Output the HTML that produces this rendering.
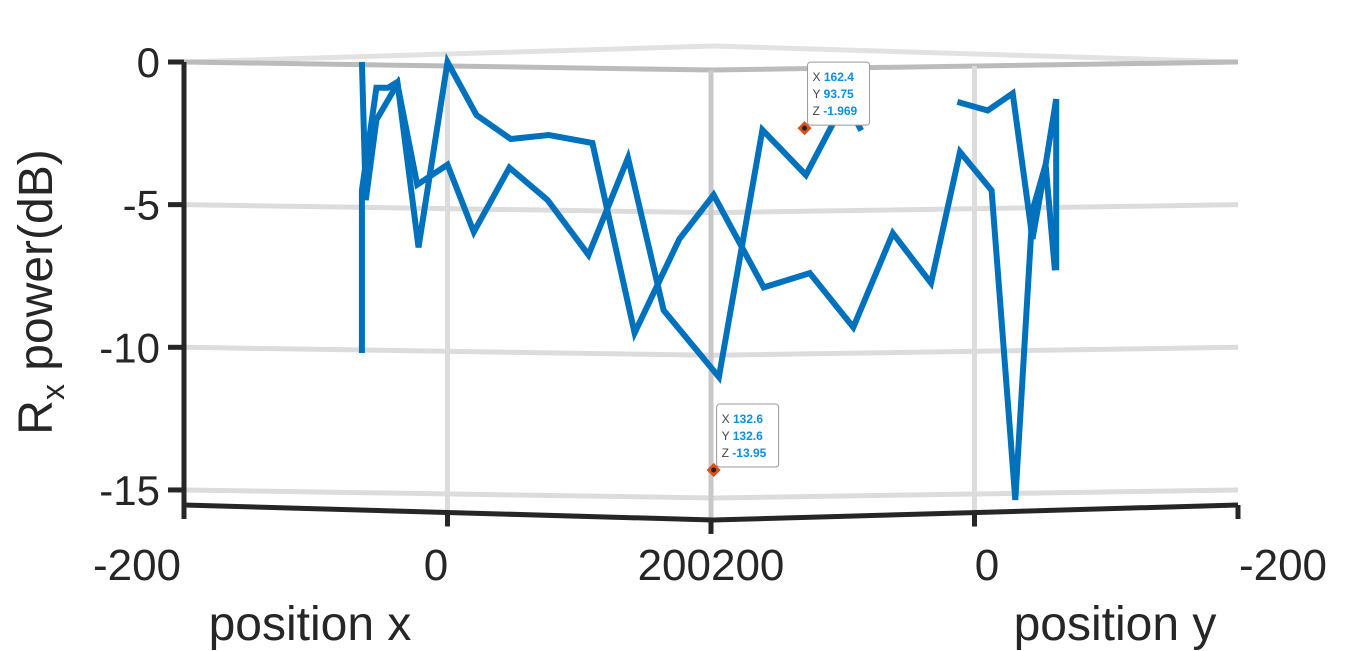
<!DOCTYPE html>
<html><head><meta charset="utf-8"><style>
body{margin:0;background:#fff}
svg{display:block;font-family:"Liberation Sans",sans-serif}
</style></head><body>
<svg width="1366" height="651" viewBox="0 0 1366 651">
<g id="grid"></g>
<g id="axes"></g>
<g id="series"></g>
<g id="tips"></g>
<text x="310" y="640" font-size="48" fill="#262626" text-anchor="middle">position x</text>
<text x="1115" y="640" font-size="48" fill="#262626" text-anchor="middle">position y</text>
<text transform="translate(52,292) rotate(-90)" font-size="48" fill="#262626" text-anchor="middle">R<tspan font-size="32" dy="12">x</tspan><tspan dy="-12"> power(dB)</tspan></text>
</svg>
<script>
const zTicks=[0,-5,-10,-15];
const zTickLabels=["0","-5","-10","-15"];
const hTicks=[-200,0,200,400,600];
const hTickLabels=["-200","0","200200","0","-200"];
const seriesAU=[-65,-65,-54,-45,-38,-22,0,22,48,77,110,142,176,202,240,275,308,338,367,389,413,431,444,454,461];
const seriesAZ=[-10.2,-4.5,-0.9,-0.9,-0.7,-6.5,0,-1.86,-2.7,-2.56,-2.84,-9.5,-6.2,-4.66,-7.9,-7.4,-9.3,-6,-7.75,-3.15,-4.5,-15.35,-5.2,-3.6,-7.3];
const seriesBU=[-65,-62,-54,-38,-23,0,20,47,76,107,137,164,206,239,272,302,314];
const seriesBZ=[0,-4.84,-2.03,-0.77,-4.3,-3.6,-5.96,-3.7,-4.84,-6.76,-3.36,-8.7,-11.04,-2.38,-3.96,-1.33,-2.4];
const seriesCU=[387,410,429,444,454,462,462];
const seriesCZ=[-1.4,-1.7,-1.1,-6.2,-3.6,-1.3,-7.3];
const tipX=[162.4,132.6],tipY=[93.75,132.6],tipZ=[-1.969,-13.95],tipU=[271,202];
const NS="http://www.w3.org/2000/svg";
const hx=u=>184+(u+200)*1.3175;
const zy=z=>62-z*28.53;
const bend=u=>{const px=hx(u);return px<=713?(px-184)/529:(1238-px)/525;};
function mk(tag,a,p){const e=document.createElementNS(NS,tag);for(const k in a)e.setAttribute(k,a[k]);p.appendChild(e);return e;}
const grid=document.getElementById('grid'),axes=document.getElementById('axes'),ser=document.getElementById('series'),tips=document.getElementById('tips');
let e=mk('polyline',{points:"184,62 713,46 1238,62",fill:"none",stroke:"#e2e2e2","stroke-width":5},grid);


zTicks.forEach((z,i)=>{
 const y=zy(z);
 let g=mk('polyline',{points:`184,${y} 713,${y+8} 1238,${y}`,fill:"none",stroke:i==0?"#bbbbbb":"#dcdcdc","stroke-width":5},grid);
 
 
 let t=mk('text',{x:160,y:y+15,"font-size":42,fill:"#262626","text-anchor":"end"},axes);
 t.textContent=zTickLabels[i];
 
 
 let tk=mk('line',{x1:168,y1:y,x2:184,y2:y,stroke:"#262626","stroke-width":5},axes);
 
 
});
hTicks.forEach((u,i)=>{
 const x=hx(u),yb=505+15*bend(u);
 if(i>0&&i<4){let g=mk('line',{x1:x,y1:zy(0)+8*bend(u),x2:x,y2:yb,stroke:i==2?"#c8c8c8":"#dcdcdc","stroke-width":5},grid);
 
 }
 let tk=mk('line',{x1:x,y1:yb,x2:x,y2:yb+14,stroke:"#262626","stroke-width":5},axes);
 
 
 let t=mk('text',{x:i==0?137:i==4?1283:(i==1?436:i==3?987:x),y:580,"font-size":44,fill:"#262626","text-anchor":"middle"},axes);
 t.textContent=hTickLabels[i];
 
 
});
e=mk('line',{x1:184,y1:62,x2:184,y2:507,stroke:"#262626","stroke-width":5},axes);


e=mk('polyline',{points:"184,505 713,520 1238,505",fill:"none",stroke:"#262626","stroke-width":5},axes);


function line(U,Z,name){const p=U.map((u,i)=>hx(u).toFixed(1)+","+zy(Z[i]).toFixed(1)).join(" ");
 const l=mk('polyline',{points:p,fill:"none",stroke:"#0072BD","stroke-width":6,"stroke-linejoin":"miter"},ser);
 
 }
line(seriesAU,seriesAZ,'series-line-a');
line(seriesBU,seriesBZ,'series-line-b');
line(seriesCU,seriesCZ,'series-line-c');
tipU.forEach((u,i)=>{
 const x=hx(u),y=zy(tipZ[i])+10;
 const g=mk('g',{},tips);
 
 
 mk('rect',{x:x-5,y:y-5,width:10,height:10,fill:"#d95319",transform:`rotate(45 ${x} ${y})`},g);
 mk('circle',{cx:x,cy:y,r:2.5,fill:"#222"},g);
 mk('rect',{x:x+3,y:y-66,width:62,height:63,rx:3,fill:"#fff",stroke:"#999","stroke-width":1},g);
 [["X",tipX[i]],["Y",tipY[i]],["Z",tipZ[i]]].forEach((r,j)=>{
  const t=mk('text',{x:x+8,y:y-47+j*17,"font-size":12,fill:"#444"},g);
  t.textContent=r[0]+" ";
  const s=mk('tspan',{fill:"#0a8ee8","font-weight":"bold"},t);
  s.textContent=String(r[1]);
 });
});
</script>
</body></html>
